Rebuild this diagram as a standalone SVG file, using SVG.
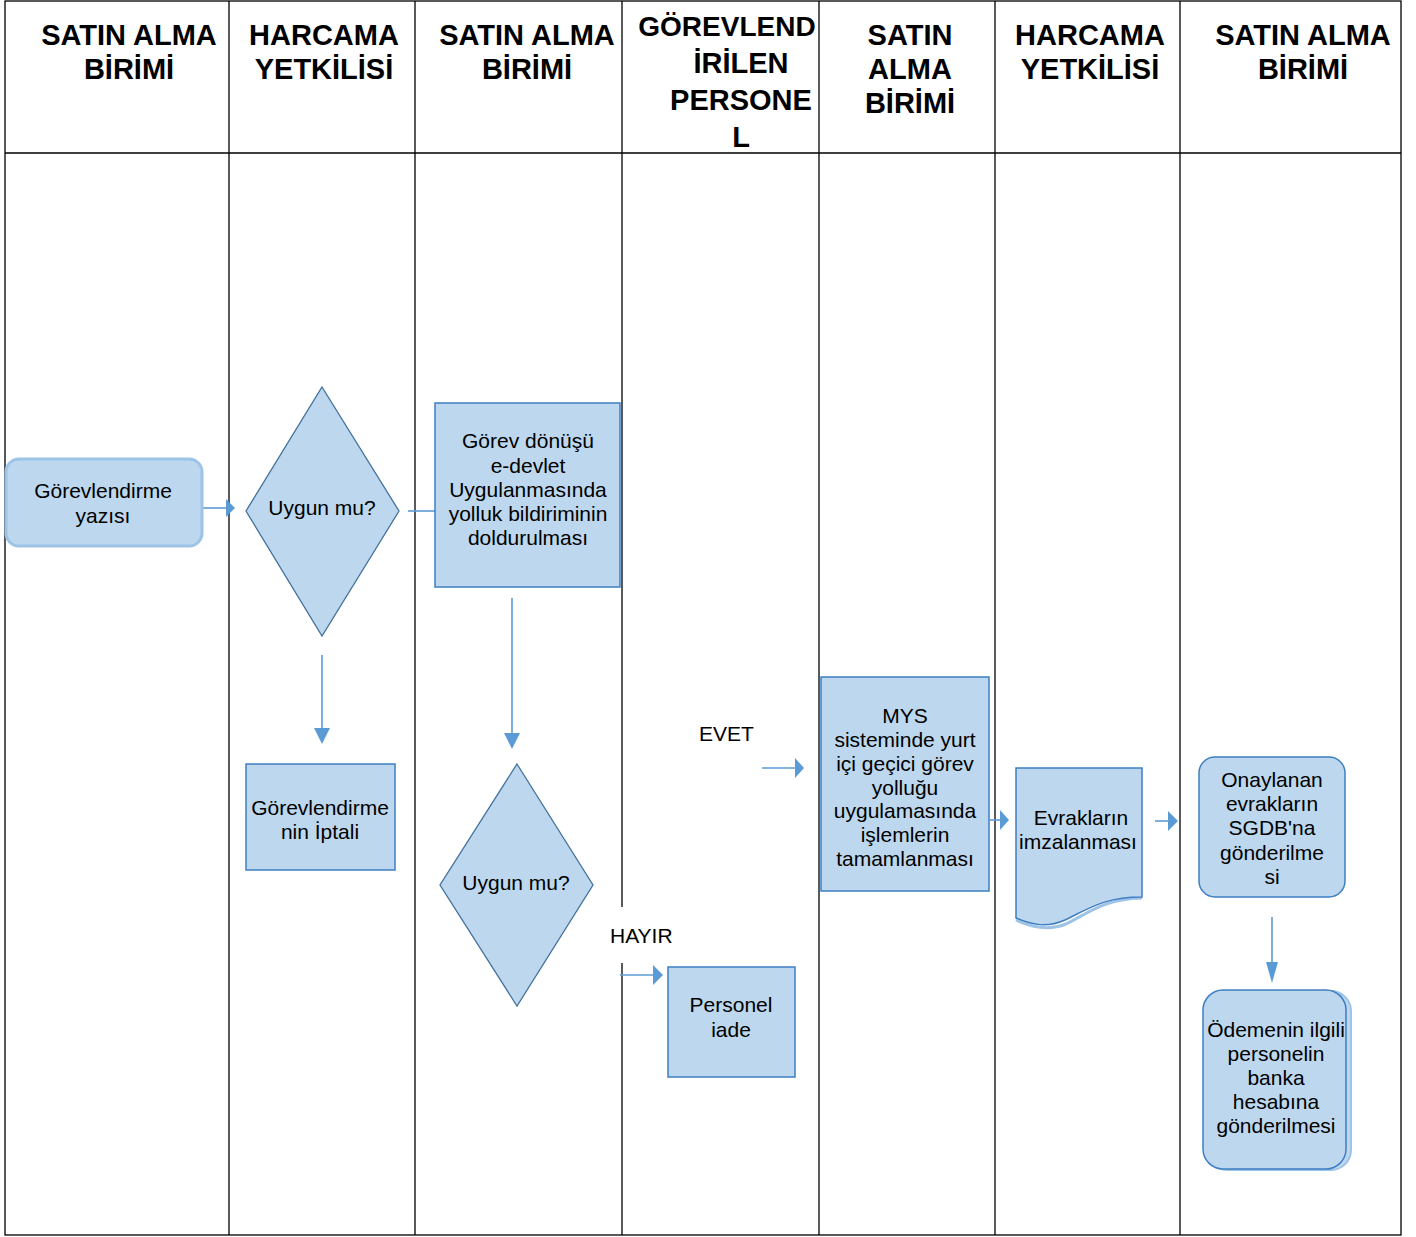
<svg xmlns="http://www.w3.org/2000/svg" width="1416" height="1237" viewBox="0 0 1416 1237">
<style>
.grid{stroke:#000;stroke-width:1.3;fill:none}
.hd{font-family:"Liberation Sans",Arial,sans-serif;font-weight:bold;font-size:29px;fill:#000;text-anchor:middle}
.tx{font-family:"Liberation Sans",Arial,sans-serif;font-size:21px;fill:#000;text-anchor:middle}
.box{fill:#BDD7EE;stroke:#3E7FC1;stroke-width:1.5}
.dia{fill:#BDD7EE;stroke:#41719C;stroke-width:1.3}
.ln{stroke:#5B9BD5;stroke-width:1.6;fill:none}
.ah{fill:#5B9BD5}
</style>
<rect width="1416" height="1237" fill="#fff"/>
<g id="table">
<rect class="grid" x="5" y="1" width="1396" height="1234"/>
<line class="grid" x1="5" y1="153" x2="1401" y2="153"/>
<line class="grid" x1="229" y1="1" x2="229" y2="1235"/>
<line class="grid" x1="415" y1="1" x2="415" y2="1235"/>
<line class="grid" x1="622" y1="1" x2="622" y2="907"/>
<line class="grid" x1="622" y1="963" x2="622" y2="1235"/>
<line class="grid" x1="819" y1="1" x2="819" y2="1235"/>
<line class="grid" x1="995" y1="1" x2="995" y2="1235"/>
<line class="grid" x1="1180" y1="1" x2="1180" y2="1235"/>
<text class="hd" x="129" y="45">SATIN ALMA</text>
<text class="hd" x="129" y="79">BİRİMİ</text>
<text class="hd" x="324" y="45">HARCAMA</text>
<text class="hd" x="324" y="79">YETKİLİSİ</text>
<text class="hd" x="527" y="45">SATIN ALMA</text>
<text class="hd" x="527" y="79">BİRİMİ</text>
<text class="hd" x="727" y="36" style="font-size:28px">GÖREVLEND</text>
<text class="hd" x="741" y="73">İRİLEN</text>
<text class="hd" x="741" y="110">PERSONE</text>
<text class="hd" x="741" y="147">L</text>
<text class="hd" x="910" y="45">SATIN</text>
<text class="hd" x="910" y="79">ALMA</text>
<text class="hd" x="910" y="113">BİRİMİ</text>
<text class="hd" x="1090" y="45">HARCAMA</text>
<text class="hd" x="1090" y="79">YETKİLİSİ</text>
<text class="hd" x="1303" y="45">SATIN ALMA</text>
<text class="hd" x="1303" y="79">BİRİMİ</text>
</g>
<g id="connectors">
<line class="ln" x1="203" y1="508" x2="227" y2="508"/>
<polygon class="ah" points="226,499 235,508 226,517"/>
<line class="ln" x1="408" y1="511" x2="435" y2="511"/>
<line class="ln" x1="322" y1="655" x2="322" y2="729"/>
<polygon class="ah" points="314,728 330,728 322,744"/>
<line class="ln" x1="512" y1="598" x2="512" y2="734"/>
<polygon class="ah" points="504,733 520,733 512,749"/>
<line class="ln" x1="620" y1="975" x2="654" y2="975"/>
<polygon class="ah" points="653,965 663,975 653,985"/>
<line class="ln" x1="762" y1="768" x2="796" y2="768"/>
<polygon class="ah" points="795,758 804,768 795,778"/>
<line class="ln" x1="990" y1="820" x2="1001" y2="820"/>
<polygon class="ah" points="1000,810 1009,820 1000,830"/>
<line class="ln" x1="1155" y1="821" x2="1169" y2="821"/>
<polygon class="ah" points="1168,811 1178,821 1168,831"/>
<line class="ln" x1="1272" y1="917" x2="1272" y2="963"/>
<polygon class="ah" points="1266,962 1278,962 1272,983"/>
<text class="tx" x="610" y="943" style="text-anchor:start">HAYIR</text>
<text class="tx" x="699" y="741" style="text-anchor:start">EVET</text>
</g>
<g id="n1">
<rect x="6" y="459" width="196" height="87" rx="13" fill="#BDD7EE" stroke="#9DC3E6" stroke-width="3"/>
<text class="tx" x="103" y="498">Görevlendirme</text>
<text class="tx" x="103" y="523">yazısı</text>
</g>
<g id="n2">
<polygon class="dia" points="322,387 399,511 322,636 246,511"/>
<text class="tx" x="322" y="515">Uygun mu?</text>
</g>
<g id="n3">
<rect class="box" x="435" y="403" width="185" height="184"/>
<text class="tx" x="528" y="448">Görev dönüşü</text>
<text class="tx" x="528" y="473">e-devlet</text>
<text class="tx" x="528" y="497">Uygulanmasında</text>
<text class="tx" x="528" y="521">yolluk bildiriminin</text>
<text class="tx" x="528" y="545">doldurulması</text>
</g>
<g id="n4">
<rect class="box" x="246" y="764" width="149" height="106"/>
<text class="tx" x="320" y="815">Görevlendirme</text>
<text class="tx" x="320" y="839">nin İptali</text>
</g>
<g id="n5">
<polygon class="dia" points="517,764 593,885 517,1006 440,885"/>
<text class="tx" x="516" y="890">Uygun mu?</text>
</g>
<g id="n6">
<rect class="box" x="668" y="967" width="127" height="110"/>
<text class="tx" x="731" y="1012">Personel</text>
<text class="tx" x="731" y="1037">iade</text>
</g>
<g id="n7">
<rect class="box" x="821" y="677" width="168" height="214"/>
<text class="tx" x="905" y="723">MYS</text>
<text class="tx" x="905" y="747">sisteminde yurt</text>
<text class="tx" x="905" y="771">içi geçici görev</text>
<text class="tx" x="905" y="795">yolluğu</text>
<text class="tx" x="905" y="818">uygulamasında</text>
<text class="tx" x="905" y="842">işlemlerin</text>
<text class="tx" x="905" y="866">tamamlanması</text>
</g>
<g id="n8">
<path d="M1016,920 C1032,927 1048,931 1066,924 C1090,912 1105,899 1142,898" fill="none" stroke="#9DC3E6" stroke-width="3"/>
<path d="M1016,768 H1142 V897 C1105,897 1090,908 1065,920 C1047,928 1032,925 1016,918 Z" class="box"/>
<text class="tx" x="1081" y="825">Evrakların</text>
<text class="tx" x="1078" y="849">imzalanması</text>
</g>
<g id="n9">
<rect class="box" x="1199" y="757" width="146" height="140" rx="16"/>
<text class="tx" x="1272" y="787">Onaylanan</text>
<text class="tx" x="1272" y="811">evrakların</text>
<text class="tx" x="1272" y="835">SGDB'na</text>
<text class="tx" x="1272" y="860">gönderilme</text>
<text class="tx" x="1272" y="884">si</text>
</g>
<g id="n10">
<rect x="1207" y="991" width="144" height="179" rx="20" fill="#BDD7EE" stroke="#9DC3E6" stroke-width="2"/>
<rect class="box" x="1203" y="990" width="143" height="179" rx="20"/>
<text class="tx" x="1276" y="1037">Ödemenin ilgili</text>
<text class="tx" x="1276" y="1061">personelin</text>
<text class="tx" x="1276" y="1085">banka</text>
<text class="tx" x="1276" y="1109">hesabına</text>
<text class="tx" x="1276" y="1133">gönderilmesi</text>
</g>
</svg>
